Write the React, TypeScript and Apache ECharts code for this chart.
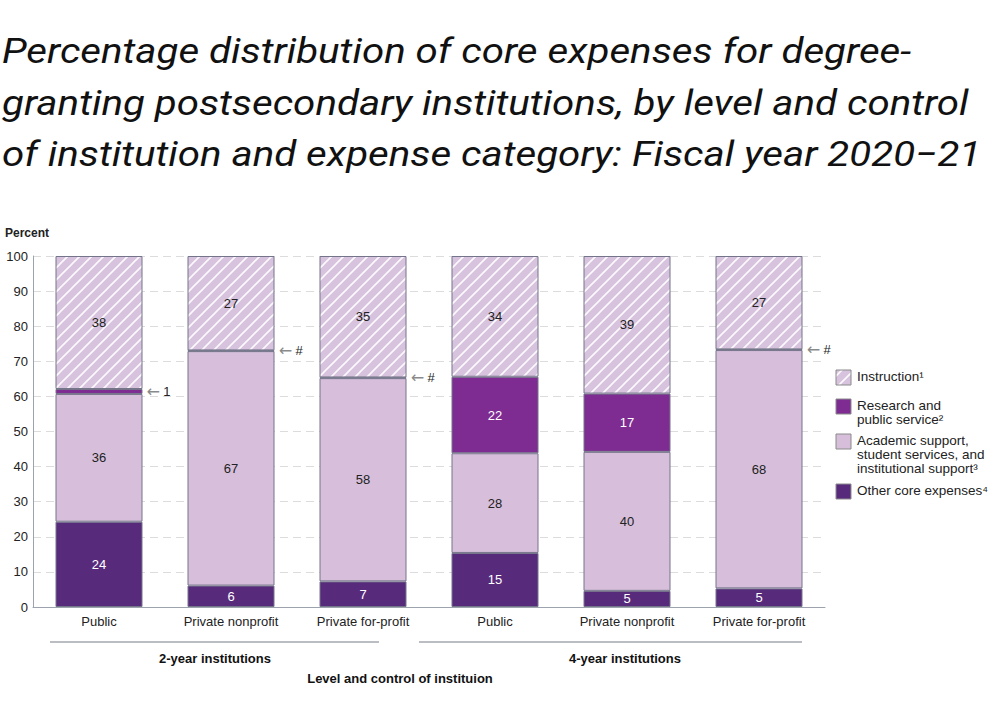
import React, { useEffect, useRef } from "react";
import * as echarts from "echarts";

// ---------- data ----------
const categories = [
  "Public",
  "Private nonprofit",
  "Private for-profit",
  "Public",
  "Private nonprofit",
  "Private for-profit",
];
const otherCore = [24.3, 6.1, 7.3, 15.4, 4.6, 5.3];
const academicSupport = [36.4, 66.8, 57.9, 28.4, 39.6, 67.9];
const researchService = [1.4, 0.2, 0.2, 21.8, 16.6, 0.2];
const instruction = [37.9, 26.9, 34.6, 34.4, 39.2, 26.6];
const yMin = 0;
const yMax = 100;
const yInterval = 10;
const groupLabels = ["2-year institutions", "4-year institutions"];
const seriesNames = [
  "Instruction¹",
  "Research and\npublic service²",
  "Academic support,\nstudent services, and\ninstitutional support³",
  "Other core expenses⁴",
];
const titleText =
  "Percentage distribution of core expenses for degree-\ngranting postsecondary institutions, by level and control\nof institution and expense category: Fiscal year 2020−21";
const yAxisTitle = "Percent";
const xAxisTitle = "Level and control of instituion";

// ---------- styles ----------
const C_INSTR = "#d8c3de";
const C_RESEARCH = "#7e2c92";
const C_ACADEMIC = "#d7bfdc";
const C_OTHER = "#582a7c";
const C_BORDER = "#74748a";
const FONT = "Liberation Sans";

function makeHatch(): HTMLCanvasElement {
  const s = 12;
  const c = document.createElement("canvas");
  c.width = s;
  c.height = s;
  const ctx = c.getContext("2d")!;
  ctx.fillStyle = C_INSTR;
  ctx.fillRect(0, 0, s, s);
  ctx.strokeStyle = "rgba(255,255,255,0.9)";
  ctx.lineWidth = 1.6;
  ctx.beginPath();
  ctx.moveTo(-2, s + 2);
  ctx.lineTo(s + 2, -2);
  ctx.moveTo(-2, 2);
  ctx.lineTo(2, -2);
  ctx.moveTo(s - 2, s + 2);
  ctx.lineTo(s + 2, s - 2);
  ctx.stroke();
  return c;
}

const fmt = (v: number) => {
  const r = Math.round(v);
  return r === 0 ? "#" : String(r);
};

export default function App() {
  const ref = useRef<HTMLDivElement>(null);
  useEffect(() => {
    document.body.style.margin = "0";
    const chart = echarts.init(ref.current!, null, { renderer: "svg" });
    const hatch = { image: makeHatch(), repeat: "repeat" } as any;

    const insideLabel = (color: string) => ({
      show: true,
      position: "inside" as const,
      color,
      fontFamily: FONT,
      fontSize: 13,
      formatter: (p: any) => fmt(p.value),
    });

    const arrowLabel = {
      show: true,
      position: "right" as const,
      distance: 4,
      formatter: (p: any) => "{a|←} {t|" + fmt(p.value) + "}",
      rich: {
        a: { color: "#8a8a8a", fontSize: 16, fontFamily: "DejaVu Sans" },
        t: { color: "#222", fontSize: 13, fontFamily: FONT },
      },
    };

    const barCommon = {
      type: "bar" as const,
      stack: "total",
      barWidth: 87,
      itemStyle: { borderColor: C_BORDER, borderWidth: 1 },
    };

    const legendX = 836;
    const legendItems = [
      { fill: hatch, y: 370, text: seriesNames[0] },
      { fill: C_RESEARCH, y: 399, text: seriesNames[1] },
      { fill: C_ACADEMIC, y: 434, text: seriesNames[2] },
      { fill: C_OTHER, y: 484, text: seriesNames[3] },
    ];
    const legendGraphics: any[] = [];
    legendItems.forEach((it) => {
      legendGraphics.push({
        type: "rect",
        shape: { x: legendX, y: it.y, width: 15, height: 15 },
        style: { fill: it.fill, stroke: "#8a8a8a", lineWidth: 1 },
      });
      legendGraphics.push({
        type: "text",
        x: legendX + 21,
        y: it.y - 1,
        style: {
          text: it.text,
          font: `13.5px '${FONT}'`,
          fill: "#222",
          lineHeight: 14,
          verticalAlign: "top",
          align: "left",
        },
      });
    });

    chart.setOption({
      animation: false,
      grid: { left: 33, right: 175, top: 256, bottom: 105 },
      xAxis: {
        type: "category",
        data: categories,
        axisLine: { lineStyle: { color: "#9ca3ad", width: 1 } },
        axisTick: { show: false },
        axisLabel: { color: "#222", fontFamily: FONT, fontSize: 13, margin: 8 },
      },
      yAxis: {
        type: "value",
        min: yMin,
        max: yMax,
        interval: yInterval,
        axisLine: { show: true, lineStyle: { color: "#9ca3ad", width: 1 } },
        axisTick: { show: false },
        axisLabel: { color: "#222", fontFamily: FONT, fontSize: 13, margin: 5 },
        splitLine: { lineStyle: { color: "#dcdcdc", type: [8, 5], width: 1 } },
      },
      series: [
        {
          ...barCommon,
          name: seriesNames[3],
          data: otherCore,
          itemStyle: { ...barCommon.itemStyle, color: C_OTHER },
          label: insideLabel("#fff"),
        },
        {
          ...barCommon,
          name: seriesNames[2],
          data: academicSupport,
          itemStyle: { ...barCommon.itemStyle, color: C_ACADEMIC },
          label: insideLabel("#222"),
        },
        {
          ...barCommon,
          name: seriesNames[1],
          data: researchService.map((v) => ({
            value: v,
            label: v < 3 ? arrowLabel : insideLabel("#fff"),
          })),
          itemStyle: { ...barCommon.itemStyle, color: C_RESEARCH },
        },
        {
          ...barCommon,
          name: seriesNames[0],
          data: instruction,
          itemStyle: { ...barCommon.itemStyle, color: hatch },
          label: insideLabel("#222"),
        },
      ],
      graphic: [
        {
          type: "text",
          x: 2,
          y: 25.5,
          scaleX: 1.15,
          style: {
            text: titleText,
            font: "italic 35px Roboto",
            fill: "#111",
            lineHeight: 51.5,
            verticalAlign: "top",
            align: "left",
          },
        },
        {
          type: "text",
          x: 5,
          y: 233,
          style: {
            text: yAxisTitle,
            font: `bold 12px '${FONT}'`,
            fill: "#222",
            verticalAlign: "middle",
          },
        },
        {
          type: "line",
          shape: { x1: 50, y1: 642, x2: 379, y2: 642 },
          style: { stroke: "#a3a8ae", lineWidth: 1.5 },
        },
        {
          type: "line",
          shape: { x1: 419, y1: 642, x2: 802, y2: 642 },
          style: { stroke: "#a3a8ae", lineWidth: 1.5 },
        },
        {
          type: "text",
          x: 215,
          y: 658,
          style: {
            text: groupLabels[0],
            font: `bold 13px '${FONT}'`,
            fill: "#111",
            align: "center",
            verticalAlign: "middle",
          },
        },
        {
          type: "text",
          x: 625,
          y: 658,
          style: {
            text: groupLabels[1],
            font: `bold 13px '${FONT}'`,
            fill: "#111",
            align: "center",
            verticalAlign: "middle",
          },
        },
        {
          type: "text",
          x: 400,
          y: 678,
          style: {
            text: xAxisTitle,
            font: `bold 13px '${FONT}'`,
            fill: "#111",
            align: "center",
            verticalAlign: "middle",
          },
        },
        ...legendGraphics,
      ],
    });
    return () => chart.dispose();
  }, []);
  return <div ref={ref} style={{ width: 1000, height: 712 }} />;
}
